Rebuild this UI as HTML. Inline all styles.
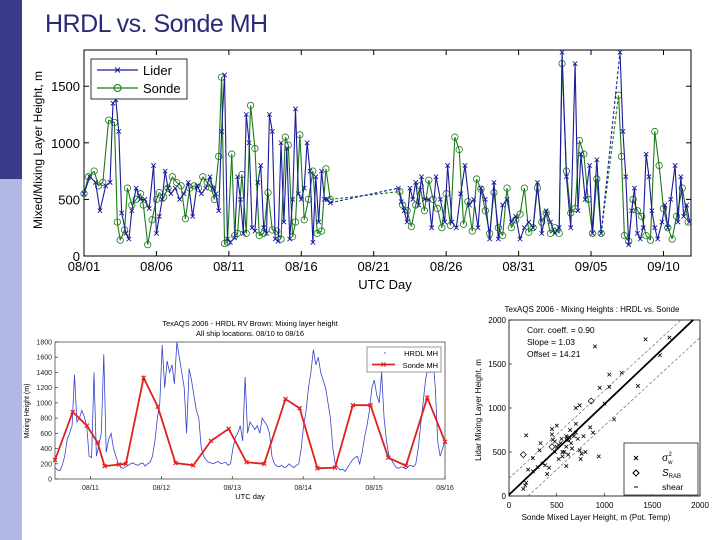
<!DOCTYPE html>
<html><head><meta charset="utf-8"><style>
html,body{margin:0;padding:0;background:#fff;}
body{width:720px;height:540px;position:relative;overflow:hidden;font-family:"Liberation Sans",sans-serif;}
#side1{position:absolute;left:0;top:0;width:22px;height:179px;background:#3b3b8c;}
#side2{position:absolute;left:0;top:179px;width:22px;height:361px;background:#b3b7e4;}
#title{position:absolute;left:45px;top:10px;font-size:25px;color:#2a2a7a;letter-spacing:-0.5px;}
svg{position:absolute;left:0;top:0;}
text{font-family:"Liberation Sans",sans-serif;}
</style></head><body>
<div id="side1"></div>
<div id="side2"></div>
<div id="title">HRDL vs. Sonde MH</div>
<svg id="svg" width="720" height="540"></svg>
<script>
// ===== Main chart data (days since 08/01) =====
const mainTicks = ["08/01","08/06","08/11","08/16","08/21","08/26","08/31","09/05","09/10"];
const mainYTicks = [0,500,1000,1500];
const lidarDays = [
0,0.4,0.8,1.1,1.5,1.8,2.0,2.2,2.4,2.6,
2.9,3.1,3.3,3.6,3.9,4.2,4.5,4.8,5.0,5.2,
5.4,5.6,5.8,6.0,6.3,6.6,6.9,7.2,7.5,7.8,
8.1,8.4,8.7,8.9,9.1,9.3,9.5,9.7,9.9,10.1,
10.4,10.6,10.8,11.0,11.2,11.4,11.6,11.8,12.0,12.2,
12.4,12.6,12.8,13.0,13.2,13.4,13.6,13.8,14.0,14.2,
14.4,14.6,14.8,15.0,15.2,15.4,15.6,15.8,16.0,16.2,
16.4,16.6,16.8,17.0,21.7,21.9,22.1,22.3,22.5,22.7,
22.9,23.1,23.3,23.5,23.8,24.0,24.3,24.6,24.9,25.1,
25.4,25.7,26.0,26.3,26.6,26.9,27.2,27.4,27.7,28.0,
28.3,28.6,28.9,29.2,29.5,29.8,30.1,30.4,30.7,31.0,
31.3,31.6,31.9,32.2,32.5,32.8,33.0,33.3,33.6,33.9,
34.1,34.3,34.6,34.9,35.1,35.4,35.7,37.0,37.2,37.4,
37.6,37.8,38.0,38.2,38.4,38.6,38.8,39.0,39.2,39.4,
39.6,39.9,40.1,40.3,40.5,40.8,41.0,41.2,41.4,41.6,41.8];
const lidarVals = [
550,700,650,400,620,650,1350,1380,1100,380,
200,150,400,600,500,500,420,800,200,350,
500,750,600,550,600,500,550,650,350,620,
550,600,700,600,550,400,1100,1600,150,120,
160,700,500,200,1250,1000,250,220,650,800,
250,200,1250,1100,150,130,1000,300,950,150,
500,1300,550,500,600,1000,750,120,700,300,
750,500,500,470,600,480,400,300,600,500,
650,450,700,500,500,250,700,500,300,800,
300,250,550,800,450,500,250,600,500,150,
650,150,450,500,300,350,150,250,300,250,
650,200,400,300,200,250,1800,700,250,1700,
400,900,500,800,200,850,200,1800,1100,700,
100,400,600,200,150,250,900,700,400,250,
150,300,450,250,500,800,300,700,350,450,300];
const sondeDays = [
0,0.3,0.7,1.0,1.3,1.7,2.1,2.3,2.5,2.8,
3.0,3.3,3.6,3.9,4.1,4.4,4.7,5.0,5.2,5.5,
5.8,6.1,6.4,6.7,7.0,7.3,7.6,7.9,8.2,8.5,
8.8,9.0,9.3,9.5,9.7,9.9,10.2,10.4,10.6,10.9,
11.2,11.5,11.8,12.1,12.4,12.7,13.0,13.3,13.6,13.9,
14.1,14.4,14.6,14.9,15.2,15.5,15.8,16.1,16.4,16.7,
17.0,21.8,22.0,22.3,22.6,22.9,23.2,23.5,23.8,24.1,
24.4,24.7,25.0,25.3,25.6,25.9,26.2,26.5,26.8,27.1,
27.4,27.7,28.0,28.3,28.6,28.9,29.2,29.5,29.8,30.1,
30.4,30.7,31.0,31.3,31.6,31.9,32.2,32.5,32.8,33.0,
33.3,33.6,33.9,34.2,34.5,34.8,35.1,35.4,35.7,36.9,
37.1,37.3,37.6,37.9,38.2,38.5,38.8,39.1,39.4,39.7,
40.0,40.3,40.6,40.9,41.3,41.7];
const sondeVals = [
550,700,750,620,650,1200,1180,300,140,230,
600,450,500,550,450,100,320,500,560,520,
600,700,650,620,330,600,620,600,700,650,
600,500,880,1580,110,120,900,180,200,720,
200,1330,950,180,200,560,230,220,150,1050,
980,170,300,1070,320,500,750,200,220,770,
500,570,450,400,260,450,620,400,670,500,
420,250,550,270,1050,940,280,480,220,680,
590,400,200,560,250,180,600,250,320,370,
600,210,250,600,300,380,200,250,200,1700,
750,380,420,1020,900,500,200,680,200,1420,
880,180,130,500,400,350,180,140,1100,800,
420,250,150,350,600,300];
// ===== Bottom-left chart data =====
const blXTicks = ["08/11","08/12","08/13","08/14","08/15","08/16"];
const blYTicks = [0,200,400,600,800,1000,1200,1400,1600,1800];
const hrdlStart = 10.5, hrdlEnd = 16.0;
const hrdlVals = [150,120,110,180,300,520,600,700,1370,750,800,900,820,700,300,280,1400,300,450,600,1640,350,520,600,400,300,200,150,140,160,180,200,210,190,180,200,210,170,200,220,300,500,800,1000,1760,1200,1550,1400,1500,1250,1800,1600,1400,1200,600,1450,1300,1100,900,800,400,300,250,220,210,200,220,230,200,210,220,180,200,400,550,600,700,500,1340,600,750,700,650,700,600,800,750,700,600,300,200,170,160,180,150,160,200,170,150,180,200,400,700,900,1200,1400,1700,1500,1600,1400,1300,1200,1000,800,400,200,150,120,130,100,150,200,250,280,300,200,350,550,700,900,1200,1300,1100,1000,1400,800,500,300,250,200,150,140,160,150,130,170,180,160,200,400,700,1000,1300,1450,1400,1600,1200,500,300,400,500];
const sondeBLDays = [10.5,10.75,10.95,11.1,11.2,11.4,11.5,11.75,11.95,12.2,12.45,12.7,12.95,13.2,13.45,13.75,13.95,14.2,14.45,14.7,14.95,15.2,15.45,15.75,16.0];
const sondeBLVals = [250,880,700,480,170,190,200,1330,950,210,180,500,660,220,200,1050,930,140,150,970,970,280,175,1070,490];
// ===== Scatter data =====
const scTicks = [0,500,1000,1500,2000];
const scSonde = [180,200,250,300,330,350,400,420,450,460,480,500,520,540,560,580,600,620,640,660,680,700,720,740,760,780,800,850,900,950,1000,1050,1100,1180,1350,1430,1580,1680,180,250,320,380,450,500,550,600,650,700,750,880,940,1050,480,520,560,600,620,700,740,150,170];
const scLidar = [690,300,430,330,600,370,250,320,760,640,500,560,420,600,450,500,560,640,750,540,680,820,650,520,480,680,500,780,1700,1230,1050,1380,870,1400,1250,1780,1600,1800,150,280,520,350,700,800,650,340,600,1000,420,720,450,1240,620,580,500,680,470,720,1030,80,120];
const scDiaX = [150,450,860,620];
const scDiaY = [470,560,1080,650];

const NS="http://www.w3.org/2000/svg";
const svg=document.getElementById('svg');
function mk(tag,attrs,parent){const e=document.createElementNS(NS,tag);for(const k in attrs)e.setAttribute(k,attrs[k]);(parent||svg).appendChild(e);return e;}
function txt(x,y,s,size,anchor,parent,extra){const t=mk('text',Object.assign({x:x,y:y,'font-size':size,'text-anchor':anchor||'middle',fill:'#000'},extra||{}),parent);t.textContent=s;return t;}

// ===== MAIN =====
const mL=84,mR=691,mT=50,mB=256,mXmax=41.9,mYmax=1820;
const mx=d=>mL+d*(mR-mL)/mXmax, my=v=>mB-v*(mB-mT)/mYmax;
const mainG=mk('g',{});


const mFrame=mk('rect',{x:mL,y:mT,width:mR-mL,height:mB-mT,fill:'#fff',stroke:'#000','stroke-width':1},mainG);


mainTicks.forEach((s,i)=>{const x=mx(i*5);
 const tk=mk('line',{x1:x,x2:x,y1:mB,y2:mB-5,stroke:'#000'},mainG);
 
 
 const tk2=mk('line',{x1:x,x2:x,y1:mT,y2:mT+5,stroke:'#000'},mainG);
 
 
 const t=txt(x,271,s,13,'middle',mainG);
 
 });
mainYTicks.forEach(v=>{const y=my(v);
 const tk=mk('line',{x1:mL,x2:mL+5,y1:y,y2:y,stroke:'#000'},mainG);
 
 
 const tk2=mk('line',{x1:mR,x2:mR-5,y1:y,y2:y,stroke:'#000'},mainG);
 
 
 const t=txt(80,y+5,String(v),13,'end',mainG);
 
 });
const myl=txt(0,0,'Mixed/Mixing Layer Height, m',12,'middle',mainG,{transform:'translate(42,150) rotate(-90)'});


const mxl=txt(385,289,'UTC Day',13,'middle',mainG);


function series(days,vals,color,marker,name){
 const n=Math.min(days.length,vals.length);
 for(let i=1;i<n;i++){
  const ln=mk('line',{x1:mx(days[i-1]),y1:my(vals[i-1]),x2:mx(days[i]),y2:my(vals[i]),stroke:color,'stroke-width':1.1},mainG);
  if(days[i]-days[i-1]>0.8)ln.setAttribute('stroke-dasharray','3,2');
  
  
 }
 for(let i=0;i<n;i++){const x=mx(days[i]),y=my(vals[i]);
  let m;
  if(marker==='x'){m=mk('path',{d:`M${x-2.2},${y-2.2}L${x+2.2},${y+2.2}M${x-2.2},${y+2.2}L${x+2.2},${y-2.2}`,stroke:color,'stroke-width':0.9,fill:'none'},mainG);}
  else{m=mk('circle',{cx:x,cy:y,r:3.2,stroke:color,'stroke-width':0.8,fill:'none'},mainG);}
  
  }
}
series(sondeDays,sondeVals,'#1a7a1a','o','sonde');
series(lidarDays,lidarVals,'#1a1a9a','x','lidar');
const lg=mk('g',{},mainG);


mk('rect',{x:91,y:59,width:96,height:40,fill:'#fff',stroke:'#000','stroke-width':0.8},lg);
mk('line',{x1:97,x2:138,y1:70,y2:70,stroke:'#1a1a9a','stroke-width':1.3},lg);
mk('path',{d:'M115,67.5L120,72.5M115,72.5L120,67.5',stroke:'#1a1a9a'},lg);
mk('line',{x1:97,x2:138,y1:88,y2:88,stroke:'#1a7a1a','stroke-width':1.3},lg);
mk('circle',{cx:117.5,cy:88,r:3.5,stroke:'#1a7a1a',fill:'none'},lg);
const l1=txt(143,75,'Lider',13,'start',lg);


const l2=txt(143,93,'Sonde',13,'start',lg);



// ===== BOTTOM LEFT =====
const bL=55,bR=445,bT=342,bB=479,bX0=10.5,bX1=16,bYmax=1800;
const bx=d=>bL+(d-bX0)*(bR-bL)/(bX1-bX0), by=v=>bB-v*(bB-bT)/bYmax;
const blG=mk('g',{});


mk('rect',{x:bL,y:bT,width:bR-bL,height:bB-bT,fill:'#fff',stroke:'#333','stroke-width':0.7},blG);
const bt1=txt(250,326,'TexAQS 2006 - HRDL RV Brown:  Mixing layer height',7.5,'middle',blG);


const bt2=txt(250,336,'All ship locations. 08/10 to 08/16',7.5,'middle',blG);


blXTicks.forEach((s,i)=>{const x=bx(11+i);
 mk('line',{x1:x,x2:x,y1:bB,y2:bB-3,stroke:'#333','stroke-width':0.7},blG);
 const t=txt(x,490,s,7,'middle',blG,{fill:'#222'});
 
 });
blYTicks.forEach(v=>{const y=by(v);
 mk('line',{x1:bL,x2:bL+3,y1:y,y2:y,stroke:'#333','stroke-width':0.7},blG);
 const t=txt(52,y+2.5,String(v),7,'end',blG,{fill:'#222'});
 
 });
const byl=txt(0,0,'Mixing Height (m)',7,'middle',blG,{transform:'translate(29,411) rotate(-90)'});


const bxl=txt(250,499,'UTC day',7.5,'middle',blG);


const hStep=(hrdlEnd-hrdlStart)/(hrdlVals.length-1);
let hp='';
hrdlVals.forEach((v,i)=>{hp+=(i?'L':'M')+bx(hrdlStart+i*hStep).toFixed(1)+','+by(v).toFixed(1);});
const hl=mk('path',{d:hp,stroke:'#3344cc','stroke-width':0.8,fill:'none'},blG);


let sp='';
sondeBLDays.forEach((d,i)=>{sp+=(i?'L':'M')+bx(d).toFixed(1)+','+by(sondeBLVals[i]).toFixed(1);});
const sl=mk('path',{d:sp,stroke:'#e02020','stroke-width':1.8,fill:'none'},blG);


sondeBLDays.forEach((d,i)=>{const x=bx(d),y=by(sondeBLVals[i]);
 const m=mk('path',{d:`M${x-2},${y-2}L${x+2},${y+2}M${x-2},${y+2}L${x+2},${y-2}`,stroke:'#e02020','stroke-width':1.2},blG);
 
 });
const blLeg=mk('g',{},blG);


mk('rect',{x:367,y:347,width:74,height:25,fill:'#fff',stroke:'#555','stroke-width':0.6},blLeg);
mk('circle',{cx:385,cy:353,r:0.7,fill:'#3344cc'},blLeg);
mk('line',{x1:372,x2:395,y1:364.5,y2:364.5,stroke:'#e02020','stroke-width':1.8},blLeg);
mk('path',{d:'M381.5,362.5L385.5,366.5M381.5,366.5L385.5,362.5',stroke:'#e02020','stroke-width':1.2},blLeg);
const bl1=txt(438,356,'HRDL MH',7.5,'end',blLeg);


const bl2=txt(438,368,'Sonde MH',7.5,'end',blLeg);



// ===== SCATTER =====
const sL=509,sR=700,sT=320,sB=496,sMax=2000;
const sx=v=>sL+v*(sR-sL)/sMax, sy=v=>sB-v*(sB-sT)/sMax;
const scG=mk('g',{});


mk('rect',{x:sL,y:sT,width:sR-sL,height:sB-sT,fill:'#fff',stroke:'#000','stroke-width':0.8},scG);
const st=txt(592,312,'TexAQS 2006 - Mixing Heights : HRDL vs. Sonde',8,'middle',scG);


scTicks.forEach(v=>{
 const t=txt(sx(v),508,String(v),8,'middle',scG);
 
 
 const t2=txt(506,sy(v)+3,String(v),8,'end',scG);
 
 
 mk('line',{x1:sx(v),x2:sx(v),y1:sB,y2:sB-3,stroke:'#000','stroke-width':0.6},scG);
 mk('line',{x1:sL,x2:sL+3,y1:sy(v),y2:sy(v),stroke:'#000','stroke-width':0.6},scG);});
const sxl=txt(596,520,'Sonde Mixed Layer Height, m (Pot. Temp)',8,'middle',scG);


const syl=txt(0,0,'Lidar Mixing Layer Height, m',8,'middle',scG,{transform:'translate(481,410) rotate(-90)'});


const fitL=mk('line',{x1:sx(0),y1:sy(14),x2:sx(1930),y2:sy(1930*1.03+14),stroke:'#000','stroke-width':1.8},scG);


const d1=mk('line',{x1:sx(0),y1:sy(200),x2:sx(1800),y2:sy(2000),stroke:'#555','stroke-width':0.6,'stroke-dasharray':'3,2'},scG);


const d2=mk('line',{x1:sx(200),y1:sy(0),x2:sx(2000),y2:sy(1800),stroke:'#555','stroke-width':0.6,'stroke-dasharray':'3,2'},scG);


scSonde.forEach((v,i)=>{const x=sx(v),y=sy(scLidar[i]);
 const m=mk('path',{d:`M${x-1.8},${y-1.8}L${x+1.8},${y+1.8}M${x-1.8},${y+1.8}L${x+1.8},${y-1.8}`,stroke:'#000','stroke-width':0.8},scG);
 
 });
scDiaX.forEach((v,i)=>{const x=sx(v),y=sy(scDiaY[i]);
 const m=mk('path',{d:`M${x},${y-3}L${x+3},${y}L${x},${y+3}L${x-3},${y}Z`,stroke:'#000','stroke-width':0.7,fill:'none'},scG);
 
 });
['Corr. coeff. = 0.90','Slope = 1.03','Offset = 14.21'].forEach((s,i)=>{
 const t=txt(527,333+i*12,s,8.5,'start',scG);
 
 });
const scLeg=mk('g',{},scG);


mk('rect',{x:624,y:443,width:74,height:52,fill:'#fff',stroke:'#000','stroke-width':0.7},scLeg);
mk('path',{d:'M634,456L638,460M634,460L638,456',stroke:'#000'},scLeg);
mk('path',{d:'M636,470L639,473L636,476L633,473Z',stroke:'#000',fill:'none'},scLeg);
mk('line',{x1:634,x2:638,y1:487,y2:487,stroke:'#000'},scLeg);
const sl1=txt(662,461,'σ',10,'start',scLeg);sl1.innerHTML='σ<tspan font-size="6" dy="3">w</tspan><tspan font-size="6" dx="-4" dy="-8">2</tspan>';


const sl2=txt(662,476,'S',10,'start',scLeg,{'font-style':'italic'});sl2.innerHTML='S<tspan font-size="6" font-style="normal" dy="2">RAB</tspan>';


const sl3=txt(662,490,'shear',8.5,'start',scLeg);


</script>
</body></html>
